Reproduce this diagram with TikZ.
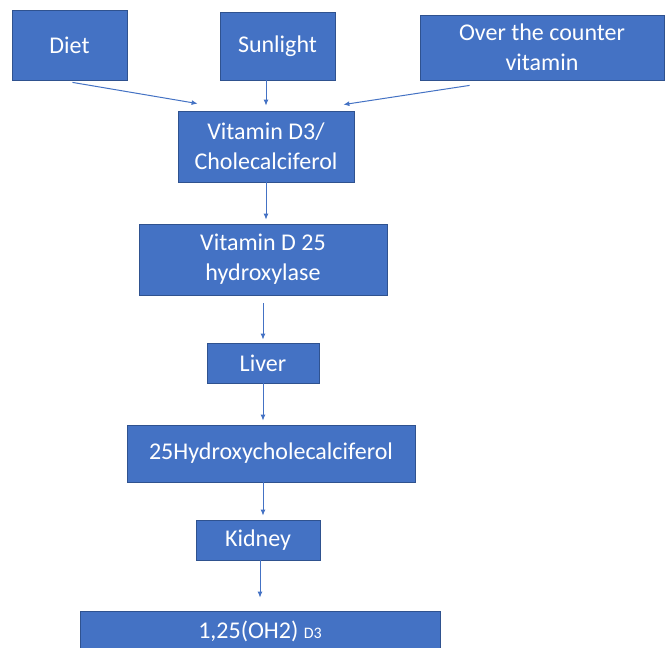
\documentclass[tikz,border=0pt]{standalone}
\usepackage{fontspec}
\setmainfont{Carlito}
\usetikzlibrary{calc}
\usetikzlibrary{arrows.meta}
\definecolor{boxblue}{RGB}{68,114,196}
\definecolor{boxedge}{RGB}{47,82,143}
\tikzset{box/.style = {fill = boxblue, draw = boxedge, line width = 0.8pt, text = white, align = center, inner sep = 2pt, font = \fontsize{24}{30}\selectfont}}
\tikzset{arr/.style = {draw = boxblue, line width = 1pt, -{Latex[length = 6pt, width = 5pt]}}}

\begin{document}
\begin{tikzpicture}[x = 1pt, y = -1pt]
    \clip (0,0) rectangle (667,648);
    \fill[white] (0,0) rectangle (667,648);
    % top row
    \node[box, minimum width = 115, minimum height = 70] (diet) at (69.5,45) {Diet};
    \node[box, minimum width = 115, minimum height = 68] (sun) at (277.5,46) {Sunlight};
    \node[box, minimum width = 244, minimum height = 65] (otc) at (542,47.5) {Over the counter\\vitamin};
    % chain
    \node[box, minimum width = 176, minimum height = 71] (dthree) at (266,146.5) {Vitamin D3/\\Cholecalciferol};
    \node[box, minimum width = 248, minimum height = 71] (hydrox) at (263,259.5) {Vitamin D 25\\hydroxylase};
    \node[box, minimum width = 112, minimum height = 40] (liver) at (263,363) {Liver};
    \node[box, minimum width = 288, minimum height = 57] (hcc) at (271,453.5) {25Hydroxycholecalciferol};
    \node[box, minimum width = 124, minimum height = 40] (kidney) at (258,540) {Kidney};
    \node[box, minimum width = 360, minimum height = 40] (final) at (260,631) {1,25(OH2) {\fontsize{16}{18}\selectfont D3}};
    % arrows into vitamin D3
    \draw[arr] ($(diet.south)+(3,2)$) -- ($(dthree.north west)+(20,-7)$);
    \draw[arr, shorten >= 5pt] (sun.south -| dthree.north) -- (dthree.north);
    \draw[arr] ($(otc.south west)+(50,5)$) -- ($(dthree.north east)+(-11,-6)$);
    % down the chain
    \draw[arr, shorten >= 4pt] (dthree.south) -- (dthree.south |- hydrox.north);
    \draw[arr, shorten <= 8pt, shorten >= 3pt] (hydrox.south) -- (liver.north);
    \draw[arr, shorten >= 4pt] (liver.south) -- (liver.south |- hcc.north);
    \draw[arr, shorten >= 4pt] (hcc.south -| liver.south) -- (kidney.north -| liver.south);
    \draw[arr, shorten >= 13pt] (kidney.south -| final.north) -- (final.north);
\end{tikzpicture}
\end{document}
